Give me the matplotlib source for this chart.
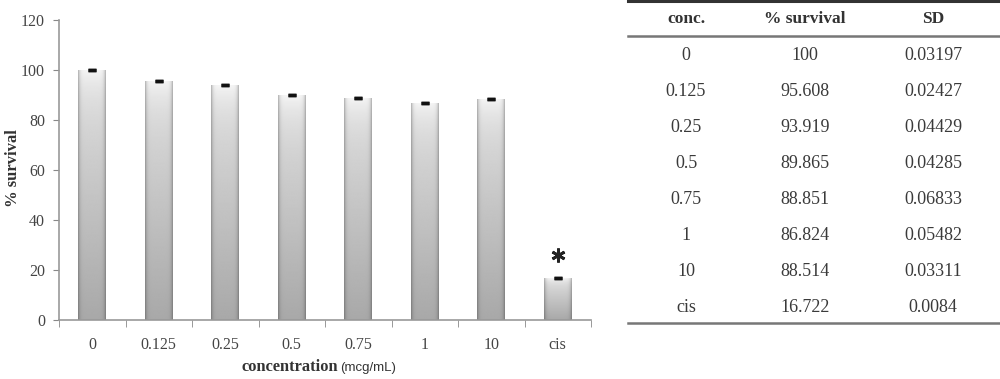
import numpy as np
import matplotlib.pyplot as plt

conc_labels = ['0', '0.125', '0.25', '0.5', '0.75', '1', '10', 'cis']
survival = [100, 95.608, 93.919, 89.865, 88.851, 86.824, 88.514, 16.722]
sd = [0.03197, 0.02427, 0.04429, 0.04285, 0.06833, 0.05482, 0.03311, 0.0084]
sd_text = ['0.03197', '0.02427', '0.04429', '0.04285', '0.06833', '0.05482', '0.03311', '0.0084']
surv_text = ['100', '95.608', '93.919', '89.865', '88.851', '86.824', '88.514', '16.722']
star_label = 'cis'

serif = ['Liberation Serif', 'DejaVu Serif']

fig = plt.figure(figsize=(10, 3.79), dpi=100)
ax = fig.add_axes([0.059, 0.1557, 0.532, 0.7916])

x = np.arange(len(conc_labels))
bars = ax.bar(x, survival, width=0.42, color='none', edgecolor='none', zorder=2)

# cylinder-like gray gradient on each bar: light top, darker bottom, dark edges
nx, ny = 80, 200
u = np.linspace(-1, 1, nx)
horiz = 1 - 0.28 * np.abs(u) ** 8
v = np.linspace(0, 1, ny)[:, None]          # 0 bottom -> 1 top
vert = 0.66 + 0.22 * v + 0.08 * v ** 12
shade = np.clip(vert * horiz[None, :], 0, 1)
for b in bars:
    x0, w, h = b.get_x(), b.get_width(), b.get_height()
    im = ax.imshow(shade, cmap='gray', vmin=0, vmax=1, origin='lower',
                   extent=[x0, x0 + w, 0, h], aspect='auto', zorder=2,
                   interpolation='bilinear')
    im.set_clip_path(b)

ax.errorbar(x, survival, yerr=sd, fmt='none', ecolor='#111111', capsize=3,
            capthick=2.5, elinewidth=1, zorder=3)

# significance marker above the cis bar
i_cis = conc_labels.index(star_label)
ax.plot(x[i_cis], survival[i_cis] + 9.3, marker=(6, 2, 0), markersize=10,
        markeredgewidth=2, color='#222222', zorder=3)

ax.set_xlim(-0.5, len(conc_labels) - 0.5)
ax.set_ylim(0, 120)
ax.set_yticks(np.arange(0, 121, 20))
ax.set_xticks(x)
ax.set_xticklabels(conc_labels)
ax.set_xticks(np.arange(-0.5, len(conc_labels), 1), minor=True)
ax.tick_params(axis='x', which='major', length=0, pad=12)
ax.tick_params(axis='x', which='minor', length=5, color='#888888', direction='out')
ax.tick_params(axis='y', length=4, color='#888888', pad=6)
for lab in ax.get_xticklabels() + ax.get_yticklabels():
    lab.set_family(serif)
    lab.set_fontsize(11.5)
    lab.set_color('#444444')
for s in ['top', 'right']:
    ax.spines[s].set_visible(False)
for s in ['left', 'bottom']:
    ax.spines[s].set_color('#999999')
    ax.spines[s].set_linewidth(1.2)

fig.text(0.013, 1 - 168 / 379, '% survival', family=serif, fontweight='bold',
         fontsize=12, color='#333333', rotation=90, ha='center', va='center')
fig.text(0.338, 0.032, 'concentration', family=serif, fontweight='bold',
         fontsize=11.8, color='#333333', ha='right', va='center')
fig.text(0.340, 0.030, '(mcg/mL)', family='Liberation Sans', fontsize=9.5,
         color='#333333', ha='left', va='center')

# table on the right
tx = fig.add_axes([0.628, 1 - 340 / 379, 0.372, 340 / 379])
tx.set_xlim(0, 1)
tx.set_ylim((340 - 19) / 36, -19 / 36)
tx.axis('off')
col_x = [0.156, 0.476, 0.820]
headers = ['conc.', '% survival', 'SD']
for cx, h in zip(col_x, headers):
    tx.text(cx, 0, h, ha='center', va='center', family=serif,
            fontweight='bold', fontsize=12.5, color='#333333')
for k, (c, s, d) in enumerate(zip(conc_labels, surv_text, sd_text), start=1):
    for cx, t in zip(col_x, [c, s, d]):
        tx.text(cx, k, t, ha='center', va='center', family=serif,
                fontsize=13, color='#3a3a3a')
tx.plot([0, 1], [-0.5, -0.5], color='#333333', lw=2.2, clip_on=False)
tx.plot([0, 1], [0.47, 0.47], color='#777777', lw=1.8, clip_on=False)
tx.plot([0, 1], [8.44, 8.44], color='#777777', lw=1.8, clip_on=False)

fig.savefig('out.png', dpi=100)
